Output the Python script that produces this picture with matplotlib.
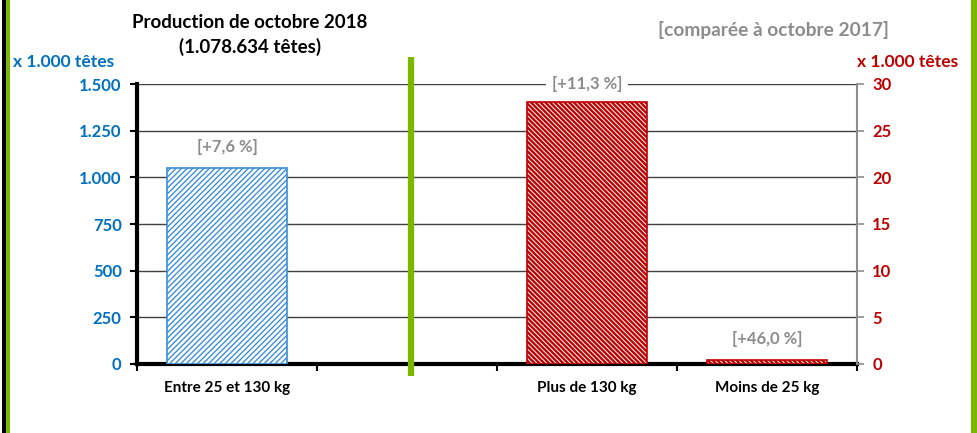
import matplotlib
matplotlib.use("Agg")
import matplotlib.pyplot as plt
from matplotlib.patches import Rectangle

plt.rcParams['font.family'] = ['Lato', 'DejaVu Sans']
plt.rcParams['hatch.linewidth'] = 1.0

# données
categories = ["Entre 25 et 130 kg", "", "Plus de 130 kg", "Moins de 25 kg"]
left_values = [1050]          # x 1.000 têtes, axe gauche
right_values = [28.1, 0.43]   # x 1.000 têtes, axe droit
left_labels = ["[+7,6 %]"]
right_labels = ["[+11,3 %]", "[+46,0 %]"]
left_ticks = [0, 250, 500, 750, 1000, 1250, 1500]
left_ticklabels = ["0", "250", "500", "750", "1.000", "1.250", "1.500"]
right_ticks = [0, 5, 10, 15, 20, 25, 30]

BLUE = '#0070C0'
RED = '#C00000'
GREY = '#8C8C8C'
GREEN = '#7AB800'

fig = plt.figure(figsize=(9.77, 4.33), dpi=100)
ax = fig.add_axes([137/977, 69/433, 720/977, 280/433])
ax2 = ax.twinx()

x = list(range(len(categories)))

# barres
ax.bar(x[0], left_values[0], width=0.667, facecolor='white',
       edgecolor='#3B8ED8', hatch='//////', linewidth=1.2, zorder=3)
plt.rcParams['hatch.linewidth'] = 1.7
ax2.bar(x[2:], right_values, width=0.667, facecolor='white',
        edgecolor=RED, hatch='\\' * 7, linewidth=1.2, zorder=3)

# axes
ax.set_xlim(-0.5, 3.5)
ax.set_ylim(0, 1500)
ax2.set_ylim(0, 30)
ax.set_yticks(left_ticks)
ax.set_yticklabels(left_ticklabels)
ax2.set_yticks(right_ticks)

ax.set_xticks([-0.5, 0.5, 1.5, 2.5, 3.5])
ax.set_xticklabels([])
ax.set_xticks(x, minor=True)
ax.set_xticklabels(categories, minor=True, fontsize=11, fontweight='bold')
ax.tick_params(axis='x', which='minor', length=0, pad=12)
ax.tick_params(axis='x', which='major', length=5, width=1.5, color='black')

ax.tick_params(axis='y', length=5, width=1.5, colors='black', labelsize=12,
               pad=6)
for t in ax.get_yticklabels():
    t.set_color(BLUE)
    t.set_fontweight('bold')
ax2.tick_params(axis='y', length=5, width=1.2, color=GREY, labelsize=12,
                labelcolor=RED, pad=6)
for t in ax2.get_yticklabels():
    t.set_fontweight('bold')

ax.yaxis.grid(True, color='#404040', linewidth=1.0, zorder=0)
ax.set_axisbelow(True)
ax.spines['top'].set_visible(False)
ax2.spines['top'].set_visible(False)
ax.spines['left'].set_linewidth(3)
ax.spines['bottom'].set_linewidth(3)
ax.spines['right'].set_visible(False)
ax2.spines['left'].set_visible(False)
ax2.spines['bottom'].set_visible(False)
ax2.spines['right'].set_color(GREY)
ax2.spines['right'].set_linewidth(1.5)

# étiquettes des variations
ax.text(x[0], left_values[0] + 70, left_labels[0], ha='center', va='bottom',
        color=GREY, fontsize=12, fontweight='bold')
ax2.text(x[2], 30, right_labels[0], ha='center', va='center',
         color=GREY, fontsize=12, fontweight='bold',
         bbox=dict(facecolor='white', edgecolor='none', pad=4), zorder=4)
ax2.text(x[3], right_values[1] + 1.4, right_labels[1], ha='center',
         va='bottom', color=GREY, fontsize=12, fontweight='bold')

# ligne verte de séparation
ax.plot([1.02, 1.02], [-64, 1644], color=GREEN, linewidth=4.5,
        clip_on=False, zorder=5, solid_capstyle='butt')

# titres
fig.text(250/977, 1 - 22/433, "Production de octobre 2018", ha='center',
         va='center', fontsize=13.5, fontweight='bold')
fig.text(250/977, 1 - 47/433, "(1.078.634 têtes)", ha='center',
         va='center', fontsize=13.5, fontweight='bold')
fig.text(773/977, 1 - 30/433, "[comparée à octobre 2017]", ha='center',
         va='center', fontsize=13.8, fontweight='bold', color=GREY)
fig.text(64/977, 1 - 62/433, "x 1.000 têtes", ha='center', va='center',
         fontsize=12.5, fontweight='bold', color=BLUE)
fig.text(908/977, 1 - 62/433, "x 1.000 têtes", ha='center', va='center',
         fontsize=12.5, fontweight='bold', color=RED)

# bordures
fig.add_artist(Rectangle((2/977, 0), 4/977, 1, transform=fig.transFigure,
                         facecolor='black', edgecolor='none'))
fig.add_artist(Rectangle((6/977, 0), 4/977, 1, transform=fig.transFigure,
                         facecolor=GREEN, edgecolor='none'))
fig.add_artist(Rectangle((971/977, 0), 6/977, 1, transform=fig.transFigure,
                         facecolor=GREEN, edgecolor='none'))

fig.savefig('out.png', dpi=100)
